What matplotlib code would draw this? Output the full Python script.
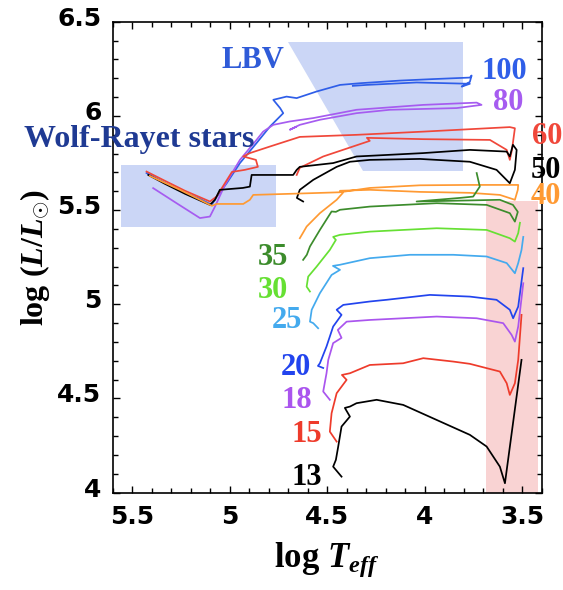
import matplotlib
matplotlib.use("Agg")
import matplotlib.pyplot as plt
import matplotlib.transforms as mtransforms
from matplotlib.patches import Polygon, Rectangle

plt.rcParams['mathtext.fontset'] = 'custom'
plt.rcParams['mathtext.rm'] = 'Liberation Serif:bold'
plt.rcParams['mathtext.it'] = 'Liberation Serif:bold:italic'
plt.rcParams['mathtext.bf'] = 'Liberation Serif:bold'

# evolutionary tracks: log Teff, log L
t100 = [5.426, 5.332, 5.229, 5.152, 5.092, 5.070, 5.015, 4.947, 4.862, 4.793, 4.725, 4.741, 4.776, 4.708,
        4.656, 4.554, 4.434, 4.332, 4.127, 3.956, 3.768, 3.759, 3.768, 3.810, 3.768, 4.041, 4.297, 4.368]
l100 = [5.697, 5.645, 5.592, 5.560, 5.528, 5.565, 5.643, 5.750, 5.856, 5.944, 6.015, 6.042, 6.086, 6.103,
        6.095, 6.130, 6.165, 6.174, 6.188, 6.196, 6.204, 6.215, 6.181, 6.156, 6.171, 6.178, 6.165, 6.160]

t80 = [5.392, 5.272, 5.152, 5.101, 5.075, 5.024, 4.947, 4.862, 4.828, 4.776, 4.691, 4.571, 4.349, 4.007,
       3.733, 3.708, 3.836, 4.178, 4.349, 4.537, 4.640, 4.691, 4.660]
l80 = [5.617, 5.537, 5.458, 5.466, 5.519, 5.634, 5.767, 5.873, 5.917, 5.953, 5.971, 5.989, 6.033, 6.059,
       6.071, 6.059, 6.042, 6.033, 6.015, 5.980, 5.953, 5.927, 5.942]

t60 = [4.656, 4.640, 4.520, 4.281, 4.296, 4.007, 3.665, 3.579, 3.563, 3.552, 3.537, 3.563, 4.007, 4.349,
       4.640, 4.793, 4.896, 4.930, 4.865, 4.855, 4.922, 4.988, 5.067, 5.101, 5.229, 5.332, 5.426]
l60 = [5.687, 5.725, 5.785, 5.868, 5.884, 5.877, 5.873, 5.820, 5.767, 5.820, 5.935, 5.941, 5.917, 5.900,
       5.889, 5.838, 5.803, 5.785, 5.767, 5.730, 5.714, 5.703, 5.572, 5.546, 5.603, 5.656, 5.705]

t50 = [4.623, 4.655, 4.640, 4.571, 4.451, 4.383, 4.281, 4.024, 3.768, 3.631, 3.563, 3.537, 3.528, 3.547,
       3.563, 3.579, 3.768, 4.007, 4.349, 4.469, 4.640, 4.656, 4.674, 4.887, 4.896, 4.932, 5.050, 5.075,
       5.101, 5.229, 5.332, 5.417]
l50 = [5.546, 5.565, 5.608, 5.661, 5.730, 5.757, 5.767, 5.772, 5.757, 5.714, 5.643, 5.714, 5.820, 5.847,
       5.785, 5.811, 5.820, 5.803, 5.785, 5.750, 5.730, 5.714, 5.687, 5.687, 5.625, 5.618, 5.608, 5.555,
       5.528, 5.587, 5.640, 5.687]

t40 = [4.640, 4.624, 4.605, 4.537, 4.451, 4.419, 4.434, 4.281, 4.024, 3.768, 3.614, 3.537, 3.522, 3.520,
       3.768, 4.024, 4.281, 4.434, 4.588, 4.879, 4.896, 4.930, 5.067, 5.091, 5.152, 5.255, 5.409]
l40 = [5.351, 5.379, 5.413, 5.484, 5.555, 5.592, 5.603, 5.608, 5.597, 5.592, 5.581, 5.555, 5.608, 5.634,
       5.634, 5.632, 5.618, 5.595, 5.590, 5.581, 5.555, 5.533, 5.533, 5.523, 5.555, 5.608, 5.682]

t35 = [4.623, 4.604, 4.588, 4.537, 4.477, 4.455, 4.434, 4.281, 3.938, 3.682, 3.563, 3.537, 3.522, 3.547,
       3.614, 4.041, 3.819, 3.751, 3.717, 3.733]
l35 = [5.236, 5.263, 5.307, 5.395, 5.493, 5.491, 5.502, 5.519, 5.537, 5.528, 5.484, 5.439, 5.491, 5.528,
       5.555, 5.546, 5.565, 5.572, 5.625, 5.697]

t30 = [4.588, 4.605, 4.597, 4.554, 4.486, 4.455, 4.469, 4.434, 4.281, 3.938, 3.682, 3.563, 3.537, 3.520, 3.511]
l30 = [5.068, 5.094, 5.147, 5.200, 5.289, 5.342, 5.358, 5.369, 5.386, 5.404, 5.395, 5.351, 5.333, 5.378, 5.433]

t25 = [4.546, 4.571, 4.588, 4.579, 4.537, 4.477, 4.434, 4.470, 4.434, 4.281, 4.075, 3.853, 3.682, 3.579,
       3.537, 3.520, 3.503, 3.494]
l25 = [4.873, 4.900, 4.908, 4.971, 5.059, 5.156, 5.183, 5.204, 5.210, 5.245, 5.263, 5.263, 5.254, 5.219,
       5.165, 5.219, 5.289, 5.358]

t20 = [4.520, 4.547, 4.537, 4.503, 4.469, 4.426, 4.451, 4.417, 4.281, 4.195, 3.973, 3.768, 3.631, 3.563,
       3.546, 3.520, 3.494]
l20 = [4.662, 4.673, 4.687, 4.776, 4.882, 4.944, 4.971, 4.997, 5.015, 5.024, 5.050, 5.041, 5.024, 4.971,
       4.926, 4.988, 5.192]

t18 = [4.486, 4.520, 4.503, 4.494, 4.469, 4.426, 4.445, 4.400, 4.281, 4.110, 3.938, 3.733, 3.597, 3.554,
       3.537, 3.520, 3.494]
l18 = [4.493, 4.537, 4.634, 4.705, 4.794, 4.822, 4.864, 4.908, 4.917, 4.926, 4.935, 4.926, 4.900, 4.838,
       4.802, 4.882, 5.112]

t15 = [4.451, 4.486, 4.477, 4.451, 4.400, 4.424, 4.383, 4.281, 4.110, 4.007, 3.853, 3.768, 3.614, 3.579,
       3.563, 3.537, 3.520, 3.503]
l15 = [4.271, 4.324, 4.422, 4.528, 4.599, 4.625, 4.634, 4.678, 4.687, 4.714, 4.696, 4.684, 4.643, 4.581,
       4.519, 4.581, 4.705, 4.944]

t13 = [4.426, 4.469, 4.455, 4.443, 4.426, 4.383, 4.409, 4.383, 4.349, 4.246, 4.110, 3.938, 3.768, 3.682,
       3.614, 3.588, 3.503]
l13 = [4.085, 4.138, 4.174, 4.245, 4.351, 4.404, 4.450, 4.457, 4.475, 4.493, 4.466, 4.386, 4.307, 4.245,
       4.138, 4.050, 4.705]

masses = ['100', '80', '60', '50', '40', '35', '30', '25', '20', '18', '15', '13']
tracks = [(t100, l100), (t80, l80), (t60, l60), (t50, l50), (t40, l40), (t35, l35),
          (t30, l30), (t25, l25), (t20, l20), (t18, l18), (t15, l15), (t13, l13)]
colors = ['#2f5ee8', '#a65cf0', '#f0473a', 'black', '#ff9a33', '#3c8c2c',
          '#66e033', '#44aaee', '#2244ee', '#aa55ee', '#ee3b2b', 'black']
label_t = [3.593, 3.573, 3.373, 3.378, 3.378, 4.776, 4.776, 4.704, 4.660, 4.656, 4.605, 4.605]
label_l = [6.237, 6.072, 5.889, 5.712, 5.573, 5.249, 5.071, 4.912, 4.662, 4.487, 4.307, 4.078]

fig = plt.figure(figsize=(5.63, 5.9), dpi=100)
ax = fig.add_axes([0.200, 0.165, 0.762, 0.798])

# shaded regions
ax.add_patch(Polygon([(4.70, 6.392), (3.805, 6.392), (3.805, 5.71), (4.315, 5.71)],
                     closed=True, facecolor='#cbd6f6', edgecolor='none', zorder=0))
ax.add_patch(Rectangle((4.764, 5.41), 5.559 - 4.764, 5.74 - 5.41,
                       facecolor='#cbd6f6', edgecolor='none', zorder=0))
ax.add_patch(Rectangle((3.417, 4.0), 3.686 - 3.417, 5.55 - 4.0,
                       facecolor='#f9d3d3', edgecolor='none', zorder=0))

for (t, l), c in zip(tracks, colors):
    ax.plot(t, l, color=c, lw=1.25, zorder=2)

serif = 'Liberation Serif'
for m, c, x, y in zip(masses, colors, label_t, label_l):
    ax.text(x, y, m, color=c, fontsize=22, fontweight='bold', family=serif,
            ha='center', va='center', clip_on=False, zorder=3)

ax.text(4.879, 6.293, 'LBV', color='#2f5bd8', fontsize=22, fontweight='bold',
        family=serif, ha='center', va='center', zorder=3)
ax.text(5.463, 5.836, 'Wolf-Rayet stars', color='#1f3a93', fontsize=23, fontweight='bold',
        family=serif, ha='center', va='baseline', clip_on=False, zorder=3)

ax.set_xlim(5.6, 3.4)
ax.set_ylim(4.0, 6.5)
ax.set_xticks([5.5, 5.0, 4.5, 4.0, 3.5])
ax.set_xticklabels(['5.5', '5', '4.5', '4', '3.5'])
ax.set_yticks([4.0, 4.5, 5.0, 5.5, 6.0, 6.5])
ax.set_yticklabels(['4', '4.5', '5', '5.5', '6', '6.5'])
ax.set_xticks([5.6 - 0.1 * i for i in range(23)], minor=True)
ax.set_yticks([4.0 + 0.1 * i for i in range(26)], minor=True)
ax.tick_params(which='both', direction='in', top=True, right=True, width=1)
ax.tick_params(which='major', length=5)
ax.tick_params(which='minor', length=3.5)
ax.tick_params(axis='x', which='major', pad=9)
ax.tick_params(axis='y', which='major', pad=8)
for lab in ax.get_xticklabels() + ax.get_yticklabels():
    lab.set_fontsize(18)
    lab.set_fontweight('bold')
# y tick labels sit a little above their ticks in the original
shift = mtransforms.ScaledTranslation(0, 4 / 72, fig.dpi_scale_trans)
for lab in ax.get_yticklabels():
    lab.set_transform(lab.get_transform() + shift)
for s in ax.spines.values():
    s.set_linewidth(1.2)

ax.set_xlabel(r'$\mathrm{log}\ T_{eff}$', fontsize=25, labelpad=8)
ax.set_ylabel(r'$\mathrm{log}\ (L/L_{\odot})$', fontsize=23, labelpad=4)

fig.savefig('out.png', dpi=100)
